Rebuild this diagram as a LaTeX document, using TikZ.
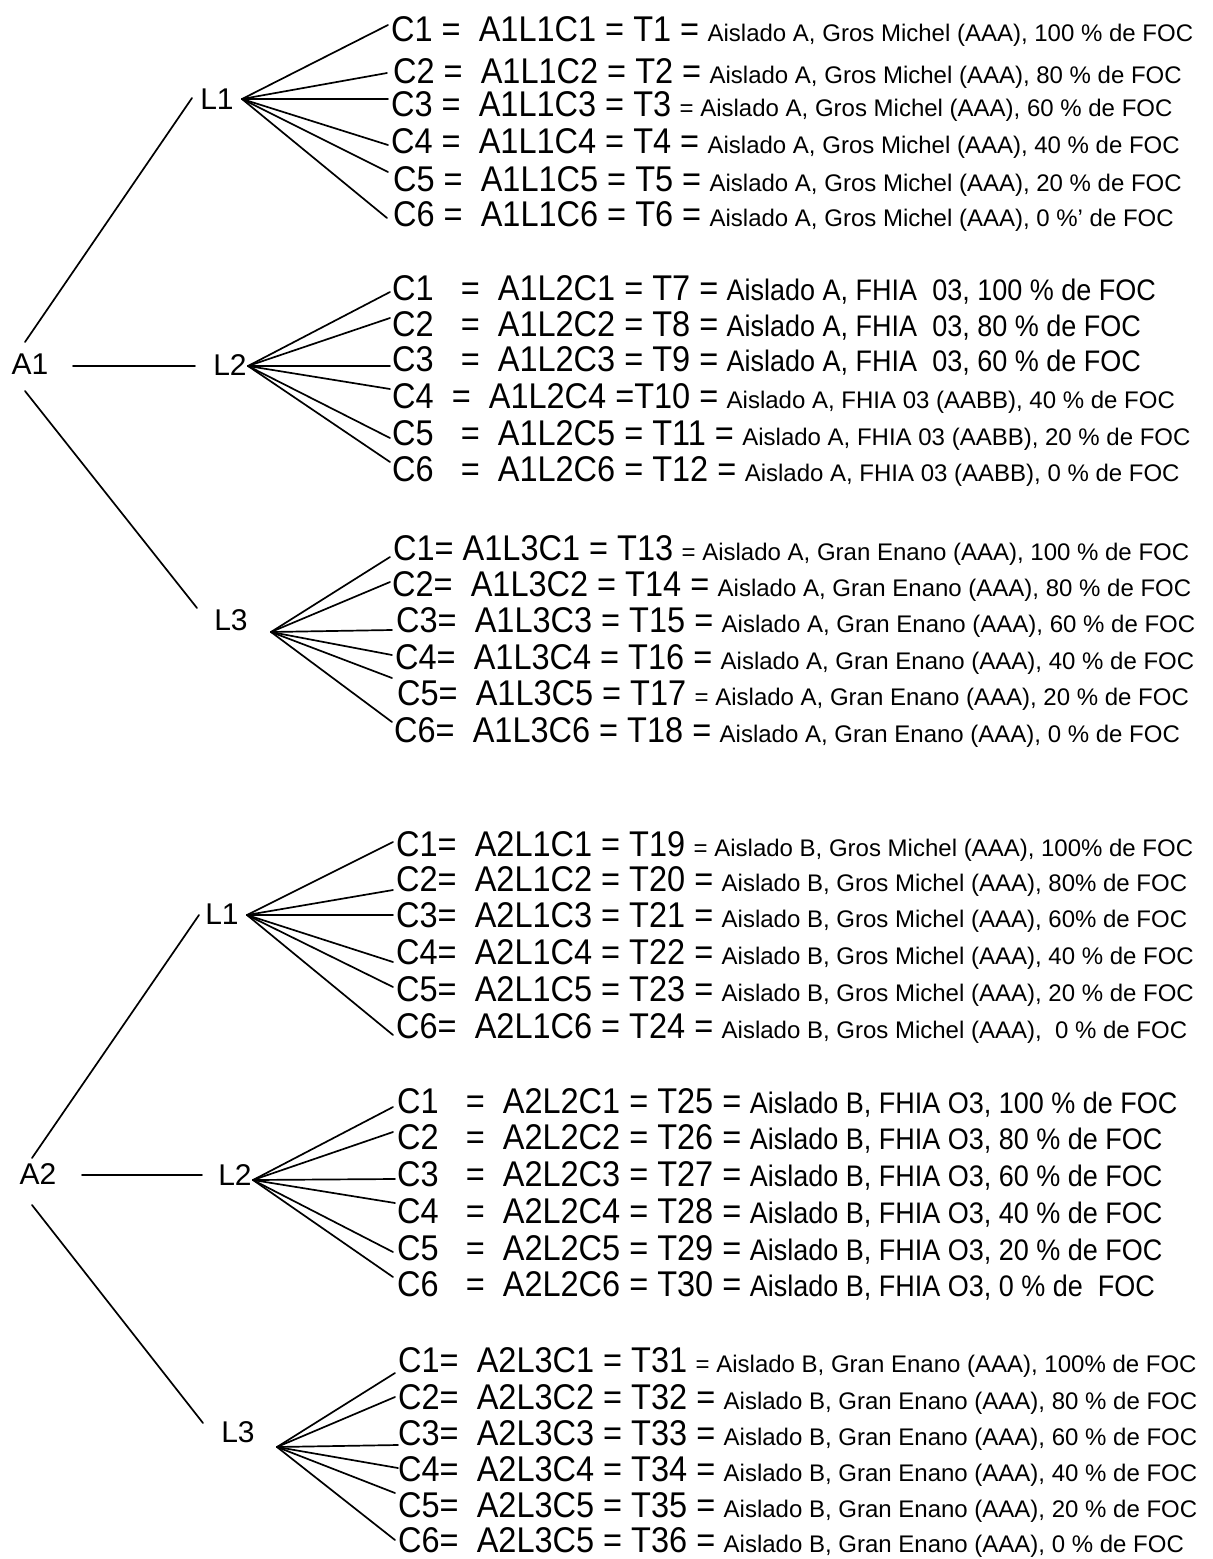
\documentclass[tikz,border=0pt]{standalone}
\usepackage{fontspec}
\setmainfont{Liberation Sans}
\newcommand\bigpart[1]{\scalebox{1}[1.1]{\fontsize{32.5}{32.5}\selectfont #1}}
\newcommand\smallpart[3]{\scalebox{1}[#1]{\fontsize{#2}{#2}\selectfont #3}}
\newcommand\trow[7]{%
  \node[bigt] (#1b) at (#2,#3) {\bigpart{#4}};
  \node[smlt] (#1s) at ([xshift=8pt]#1b.base east) {\smallpart{#6}{#7}{#5}};
}
\tikzset{
  lab/.style={inner sep=0pt, font=\fontsize{30}{30}\selectfont},
  bigt/.style={inner sep=0pt, anchor=base west},
  smlt/.style={inner sep=0pt, anchor=base west},
  ln/.style={line width=1.7pt, line cap=round},
}
\begin{document}
\begin{tikzpicture}[x=1pt,y=-1pt]
\useasboundingbox[fill=white] (0,0) rectangle (1213,1559);

% ---------- labels ----------
\node[lab] (A1) at (30,364) {A1};
\node[lab] (A2) at (38,1174) {A2};
\node[lab] (L11) at (217,99) {L1};
\node[lab] (L12) at (230,365) {L2};
\node[lab] (L13) at (231,620) {L3};
\node[lab] (L21) at (222,914) {L1};
\node[lab] (L22) at (235,1175) {L2};
\node[lab] (L23) at (238,1432) {L3};

% ---------- A -> L connector ends ----------
\coordinate (a1u) at (25,342);   \coordinate (l11w) at (192,98);
\coordinate (a1m) at (73,366);   \coordinate (l12w) at (195,366);
\coordinate (a1d) at (25,391);   \coordinate (l13w) at (197,608);
\coordinate (a2u) at (32,1158);  \coordinate (l21w) at (199,915);
\coordinate (a2m) at (82,1175);  \coordinate (l22w) at (202,1175);
\coordinate (a2d) at (32,1205);  \coordinate (l23w) at (203,1423);
\draw[ln] (a1u) -- (l11w);
\draw[ln] (a1m) -- (l12w);
\draw[ln] (a1d) -- (l13w);
\draw[ln] (a2u) -- (l21w);
\draw[ln] (a2m) -- (l22w);
\draw[ln] (a2d) -- (l23w);

% ---------- fan origins ----------
\coordinate (f11) at (242,99);
\coordinate (f12) at (248,366);
\coordinate (f13) at (271,632);
\coordinate (f21) at (247,915);
\coordinate (f22) at (253,1180);
\coordinate (f23) at (277,1447);

% ---------- fan ends ----------
\foreach \n/\x/\y in {1/388/25,2/387/73,3/388/99,4/388/145,5/388/172,6/387/218}
  {\coordinate (e11\n) at (\x,\y); \draw[ln] (f11) -- (e11\n);}
\foreach \n/\x/\y in {1/390/292,2/390/318,3/390/366,4/390/389,5/390/438,6/390/462}
  {\coordinate (e12\n) at (\x,\y); \draw[ln] (f12) -- (e12\n);}
\foreach \n/\x/\y in {1/390/557,2/390/582,3/392/630,4/392/655,5/392/678,6/392/722}
  {\coordinate (e13\n) at (\x,\y); \draw[ln] (f13) -- (e13\n);}
\foreach \n/\x/\y in {1/393/842,2/393/890,3/393/915,4/393/962,5/393/987,6/393/1035}
  {\coordinate (e21\n) at (\x,\y); \draw[ln] (f21) -- (e21\n);}
\foreach \n/\x/\y in {1/393/1107,2/393/1132,3/395/1179,4/395/1203,5/393/1252,6/393/1277}
  {\coordinate (e22\n) at (\x,\y); \draw[ln] (f22) -- (e22\n);}
\foreach \n/\x/\y in {1/395/1373,2/395/1397,3/398/1445,4/398/1468,5/395/1493,6/395/1540}
  {\coordinate (e23\n) at (\x,\y); \draw[ln] (f23) -- (e23\n);}

% ---------- rows A1 L1 ----------
\trow{t1}{391}{41}{C1 =~~A1L1C1 = T1 =}{Aislado A, Gros Michel (AAA), 100 \% de FOC}{1}{24}
\trow{t2}{393}{83}{C2 =~~A1L1C2 = T2 =}{Aislado A, Gros Michel (AAA), 80 \% de FOC}{1}{24}
\trow{t3}{391}{116}{C3 =~~A1L1C3 = T3}{= Aislado A, Gros Michel (AAA), 60 \% de FOC}{1}{24}
\trow{t4}{391}{153}{C4 =~~A1L1C4 = T4 =}{Aislado A, Gros Michel (AAA), 40 \% de FOC}{1}{24}
\trow{t5}{393}{191}{C5 =~~A1L1C5 = T5 =}{Aislado A, Gros Michel (AAA), 20 \% de FOC}{1}{24}
\trow{t6}{393}{226}{C6 =~~A1L1C6 = T6 =}{Aislado A, Gros Michel (AAA), 0 \%' de FOC}{1}{24}
% ---------- rows A1 L2 ----------
\trow{t7}{392}{300}{C1~~~=~~A1L2C1 = T7 =}{Aislado A, FHIA~~03, 100 \% de FOC}{1.1}{27}
\trow{t8}{392}{336}{C2~~~=~~A1L2C2 = T8 =}{Aislado A, FHIA~~03, 80 \% de FOC}{1.1}{27}
\trow{t9}{392}{371}{C3~~~=~~A1L2C3 = T9 =}{Aislado A, FHIA~~03, 60 \% de FOC}{1.1}{27}
\trow{t10}{392}{408}{C4~~=~~A1L2C4 =T10 =}{Aislado A, FHIA 03 (AABB), 40 \% de FOC}{1}{24}
\trow{t11}{392}{445}{C5~~~=~~A1L2C5 = T11 =}{Aislado A, FHIA 03 (AABB), 20 \% de FOC}{1}{24}
\trow{t12}{392}{481}{C6~~~=~~A1L2C6 = T12 =}{Aislado A, FHIA 03 (AABB), 0 \% de FOC}{1}{24}
% ---------- rows A1 L3 ----------
\trow{t13}{393}{560}{C1= A1L3C1 = T13}{= Aislado A, Gran Enano (AAA), 100 \% de FOC}{1}{24}
\trow{t14}{392}{596}{C2=~~A1L3C2 = T14 =}{Aislado A, Gran Enano (AAA), 80 \% de FOC}{1}{24}
\trow{t15}{396}{632}{C3=~~A1L3C3 = T15 =}{Aislado A, Gran Enano (AAA), 60 \% de FOC}{1}{24}
\trow{t16}{395}{669}{C4=~~A1L3C4 = T16 =}{Aislado A, Gran Enano (AAA), 40 \% de FOC}{1}{24}
\trow{t17}{397}{705}{C5=~~A1L3C5 = T17}{= Aislado A, Gran Enano (AAA), 20 \% de FOC}{1}{24}
\trow{t18}{394}{742}{C6=~~A1L3C6 = T18 =}{Aislado A, Gran Enano (AAA), 0 \% de FOC}{1}{24}
% ---------- rows A2 L1 ----------
\trow{t19}{396}{856}{C1=~~A2L1C1 = T19}{= Aislado B, Gros Michel (AAA), 100\% de FOC}{1}{24}
\trow{t20}{396}{891}{C2=~~A2L1C2 = T20 =}{Aislado B, Gros Michel (AAA), 80\% de FOC}{1}{24}
\trow{t21}{396}{927}{C3=~~A2L1C3 = T21 =}{Aislado B, Gros Michel (AAA), 60\% de FOC}{1}{24}
\trow{t22}{396}{964}{C4=~~A2L1C4 = T22 =}{Aislado B, Gros Michel (AAA), 40 \% de FOC}{1}{24}
\trow{t23}{396}{1001}{C5=~~A2L1C5 = T23 =}{Aislado B, Gros Michel (AAA), 20 \% de FOC}{1}{24}
\trow{t24}{396}{1038}{C6=~~A2L1C6 = T24 =}{Aislado B, Gros Michel (AAA),~~0 \% de FOC}{1}{24}
% ---------- rows A2 L2 ----------
\trow{t25}{397}{1113}{C1~~~=~~A2L2C1 = T25 =}{Aislado B, FHIA O3, 100 \% de FOC}{1.1}{27}
\trow{t26}{397}{1149}{C2~~~=~~A2L2C2 = T26 =}{Aislado B, FHIA O3, 80 \% de FOC}{1.1}{27}
\trow{t27}{397}{1186}{C3~~~=~~A2L2C3 = T27 =}{Aislado B, FHIA O3, 60 \% de FOC}{1.1}{27}
\trow{t28}{397}{1223}{C4~~~=~~A2L2C4 = T28 =}{Aislado B, FHIA O3, 40 \% de FOC}{1.1}{27}
\trow{t29}{397}{1260}{C5~~~=~~A2L2C5 = T29 =}{Aislado B, FHIA O3, 20 \% de FOC}{1.1}{27}
\trow{t30}{397}{1296}{C6~~~=~~A2L2C6 = T30 =}{Aislado B, FHIA O3, 0 \% de~~FOC}{1.1}{27}
% ---------- rows A2 L3 ----------
\trow{t31}{398}{1372}{C1=~~A2L3C1 = T31}{= Aislado B, Gran Enano (AAA), 100\% de FOC}{1}{24}
\trow{t32}{398}{1409}{C2=~~A2L3C2 = T32 =}{Aislado B, Gran Enano (AAA), 80 \% de FOC}{1}{24}
\trow{t33}{398}{1445}{C3=~~A2L3C3 = T33 =}{Aislado B, Gran Enano (AAA), 60 \% de FOC}{1}{24}
\trow{t34}{398}{1481}{C4=~~A2L3C4 = T34 =}{Aislado B, Gran Enano (AAA), 40 \% de FOC}{1}{24}
\trow{t35}{398}{1517}{C5=~~A2L3C5 = T35 =}{Aislado B, Gran Enano (AAA), 20 \% de FOC}{1}{24}
\trow{t36}{398}{1552}{C6=~~A2L3C5 = T36 =}{Aislado B, Gran Enano (AAA), 0 \% de FOC}{1}{24}
\end{tikzpicture}
\end{document}
